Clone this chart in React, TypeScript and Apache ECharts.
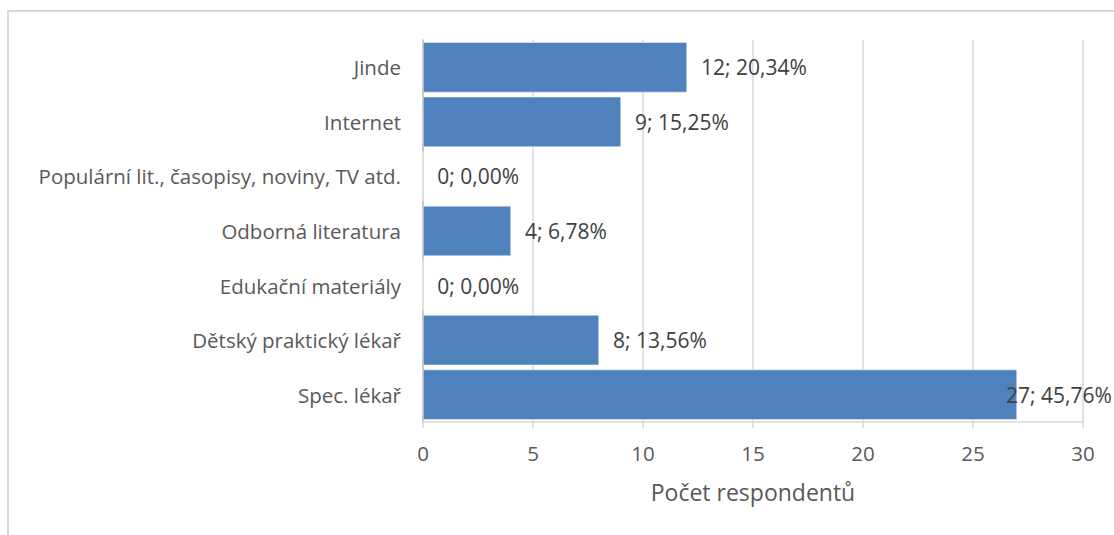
import React, { useEffect, useRef } from "react";
import * as echarts from "echarts";

const categories = [
  "Spec. lékař",
  "Dětský praktický lékař",
  "Edukační materiály",
  "Odborná literatura",
  "Populární lit., časopisy, noviny, TV atd.",
  "Internet",
  "Jinde",
];
const counts = [27, 8, 0, 4, 0, 9, 12];
const percents = ["45,76%", "13,56%", "0,00%", "6,78%", "0,00%", "15,25%", "20,34%"];
const xTicks = [0, 5, 10, 15, 20, 25, 30];
const axisTitle = "Počet respondentů";

const FONT = "'Open Sans', sans-serif";

export default function App() {
  const ref = useRef<HTMLDivElement>(null);
  useEffect(() => {
    document.body.style.margin = "0";
    const chart = echarts.init(ref.current!, null, { renderer: "svg" });
    chart.setOption({
      animation: false,
      backgroundColor: "#ffffff",
      textStyle: { fontFamily: FONT },
      graphic: [
        {
          type: "rect",
          shape: { x: 8, y: 11, width: 1300, height: 700 },
          style: { fill: "none", stroke: "#d9d9d9", lineWidth: 2 },
          silent: true,
        },
      ],
      grid: { left: 423, right: 31, top: 40, bottom: 113, containLabel: false },
      xAxis: {
        type: "value",
        min: xTicks[0],
        max: xTicks[xTicks.length - 1],
        interval: 5,
        axisLine: { show: true, lineStyle: { color: "#d9d9d9", width: 1.5 } },
        axisTick: { show: true, length: 6, lineStyle: { color: "#d9d9d9", width: 1.5 } },
        splitLine: { show: true, lineStyle: { color: "#d9d9d9", width: 1.5 } },
        axisLabel: { color: "#595959", fontSize: 20.5, margin: 20, fontFamily: FONT },
        name: axisTitle,
        nameLocation: "middle",
        nameGap: 58,
        nameTextStyle: { color: "#595959", fontSize: 23, fontFamily: FONT },
      },
      yAxis: {
        type: "category",
        data: categories,
        axisLine: { show: true, lineStyle: { color: "#bfbfbf", width: 1.5 } },
        axisTick: { show: false },
        axisLabel: { color: "#595959", fontSize: 20.5, margin: 22, fontFamily: FONT },
      },
      series: [
        {
          type: "bar",
          data: counts.map((v, i) =>
            i === 0
              ? { value: v, label: { offset: [-25, 0] } }
              : { value: v }
          ),
          barCategoryGap: "8%",
          itemStyle: { color: "#4f81bd", borderColor: "#ffffff", borderWidth: 0.5 },
          label: {
            show: true,
            position: "right",
            distance: 14,
            color: "#404040",
            fontSize: 21,
            fontFamily: FONT,
            formatter: (p: any) => `${counts[p.dataIndex]}; ${percents[p.dataIndex]}`,
          },
        },
      ],
    });
    return () => chart.dispose();
  }, []);
  return <div ref={ref} style={{ width: 1114, height: 535 }} />;
}
